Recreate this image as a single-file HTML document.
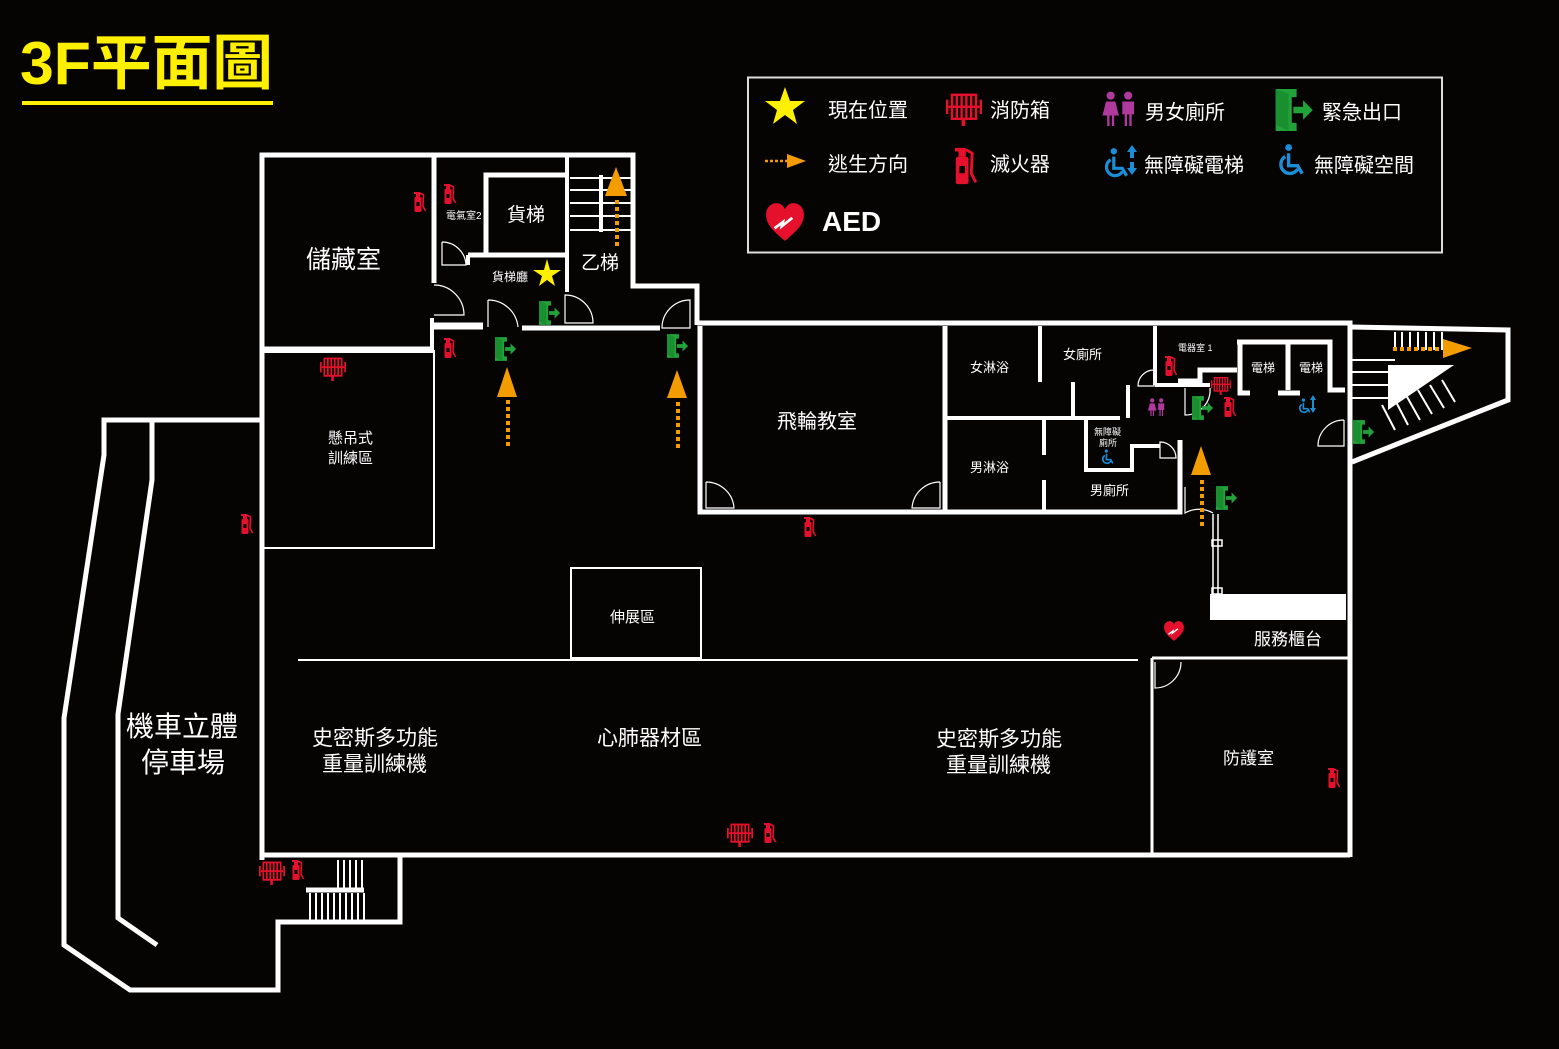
<!DOCTYPE html>
<html><head><meta charset="utf-8"><style>
html,body{margin:0;padding:0;background:#060303;}
svg{display:block;}
text{font-family:"Liberation Sans","Noto Sans CJK TC",sans-serif;fill:#fff;}
</style></head><body>
<svg width="1559" height="1049" viewBox="0 0 1559 1049" xmlns="http://www.w3.org/2000/svg">
<defs>
<symbol id="ext" viewBox="0 0 14 22"><path d="M2 1h6v2H2z M4 3h4v3H4z" fill="#e5102b"/><rect x="2.5" y="6" width="7" height="15" rx="1.2" fill="#e5102b"/><rect x="4.5" y="11" width="3" height="4" fill="#000"/><path d="M8 2 L11.5 4 L11 15 L13.5 20" stroke="#e5102b" stroke-width="1.6" fill="none"/></symbol>
<symbol id="hose" viewBox="0 0 30 30"><g fill="#e5102b"><rect x="0" y="8" width="2" height="12"/><rect x="28" y="8" width="2" height="12"/><rect x="2" y="13" width="26" height="2"/><rect x="4" y="4" width="2" height="20"/><rect x="8" y="3" width="2" height="22"/><rect x="12" y="3" width="2" height="22"/><rect x="16" y="3" width="2" height="22"/><rect x="20" y="3" width="2" height="22"/><rect x="24" y="4" width="2" height="20"/><rect x="4" y="3" width="22" height="2"/><rect x="4" y="23" width="22" height="2"/><rect x="13" y="24" width="3" height="6"/></g></symbol>
<symbol id="exit" viewBox="0 0 24 26"><path d="M0 0h13v5h-3v16h3v5H0z" fill="#22a33a"/><path d="M0 0l8 3v23L0 22z" fill="#1a8f30"/><path d="M11 11h6v-4l6 6-6 6v-4h-6z" fill="#22a33a"/></symbol>
<symbol id="wc" viewBox="0 0 30 30"><g fill="#b0399e"><circle cx="7" cy="4" r="3.5"/><path d="M3 9h8l3 12H0z M4 21h2v9H4z M8 21h2v9H8z"/><circle cx="22" cy="4" r="3.5"/><path d="M17 9h10v11h-2v10h-2v-10h-2v10h-2v-10h-2z"/></g></symbol>
<symbol id="wh" viewBox="0 0 30 30"><g fill="none" stroke="#1a8fd8" stroke-width="3"><path d="M9 12 A8 8 0 1 0 20 23"/><path d="M12 9 L12 20 L20 20 L24 27"/></g><circle cx="12" cy="4" r="3" fill="#1a8fd8"/></symbol>
<symbol id="aed" viewBox="0 0 40 40"><path d="M20 38 C8 28 2 22 2 13 C2 6 7 2 12 2 C16 2 19 5 20 8 C21 5 24 2 28 2 C33 2 38 6 38 13 C38 22 32 28 20 38Z" fill="#e5102b"/><path d="M10 26 L18 20 L17 24 L27 16" stroke="#fff" stroke-width="2.5" fill="none"/></symbol>
</defs>

<rect width="1559" height="1049" fill="#060303"/>

<text x="20" y="84" font-size="60" font-weight="bold" textLength="253" lengthAdjust="spacingAndGlyphs" style="fill:#ffef00">3F平面圖</text>
<rect x="22" y="101" width="251" height="4" fill="#ffef00"/>

<rect x="748" y="77.5" width="694" height="175" fill="none" stroke="#ddd" stroke-width="2"/>
<polygon points="785,87 790,101 805,101 793,110 797,124 785,115 773,124 777,110 765,101 780,101" fill="#ffef00"/>
<text x="828" y="117" font-size="20">現在位置</text>
<use href="#hose" x="946" y="90" width="36" height="36"/>
<text x="990" y="117" font-size="20">消防箱</text>
<use href="#wc" x="1101" y="91" width="38" height="35"/>
<text x="1145" y="119" font-size="20">男女廁所</text>
<use href="#exit" x="1275" y="89" width="40" height="42"/>
<text x="1322" y="119" font-size="20">緊急出口</text>
<line x1="765" y1="161" x2="787" y2="161" stroke="#f29c00" stroke-width="2.5" stroke-dasharray="3,2"/>
<polygon points="787,154 806,161 787,168" fill="#f29c00"/>
<text x="828" y="171" font-size="20">逃生方向</text>
<use href="#ext" x="948" y="146" width="32" height="40"/>
<text x="990" y="171" font-size="20">滅火器</text>
<use href="#wh" x="1101" y="146" width="32" height="34"/>
<polygon points="1132,145 1137,152 1127,152" fill="#1a8fd8"/><rect x="1130" y="152" width="4" height="6" fill="#1a8fd8"/><rect x="1130" y="162" width="4" height="6" fill="#1a8fd8"/><polygon points="1127,168 1137,168 1132,175" fill="#1a8fd8"/>
<text x="1144" y="172" font-size="20">無障礙電梯</text>
<use href="#wh" x="1275" y="141" width="34" height="38"/>
<text x="1314" y="172" font-size="20">無障礙空間</text>
<use href="#aed" x="764" y="201" width="42" height="42"/>
<text x="822" y="231" font-size="28" font-weight="bold">AED</text>

<g fill="none" stroke="#fff" stroke-linejoin="miter">
<path d="M262 860 V155 H633 V286 H697 V325" stroke-width="5"/>
<path d="M434 155 V283" stroke-width="5"/>
<path d="M262 349 H434" stroke-width="5"/>
<path d="M434 350 V548 H264" stroke-width="2"/>
<path d="M264 352 H434" stroke-width="2"/>
<path d="M567 155 V258" stroke-width="4"/>
<path d="M486 255 V175 H567" stroke-width="5"/>
<path d="M468 255 H567" stroke-width="5"/>
<path d="M468 255 V265" stroke-width="4"/>
<path d="M567 258 V292" stroke-width="4"/>
<path d="M430 326 H483" stroke-width="7"/>
<path d="M522 328 H660" stroke-width="5"/>
<path d="M432 318 V350" stroke-width="4"/>
<path d="M570 178 H632 M570 190 H632 M570 203 H632 M570 216 H632 M570 230 H632" stroke-width="2"/>
<path d="M601 175 V232" stroke-width="4"/>
<path d="M697 323 H1350 V857" stroke-width="5"/>
<path d="M700 326 V512 H945 V326" stroke-width="5"/>
<path d="M945 512 H1180 V440" stroke-width="5"/>
<path d="M947 418 H1120" stroke-width="4"/>
<path d="M1040 326 V382 M1073 382 V418 M1128 385 V418" stroke-width="4"/>
<path d="M1044 420 V455 M1044 480 V512" stroke-width="4"/>
<path d="M1086 420 V470 H1132 V446 H1160" stroke-width="4"/>
<path d="M1155 326 V385" stroke-width="4"/>
<path d="M1155 385 H1175 H1210" stroke-width="4"/>
<path d="M1178 381 H1200 V370 H1237" stroke-width="5"/>
<path d="M1237 342 H1330 V390 H1345" stroke-width="5"/>
<path d="M1240 342 V393 H1250 M1288 342 V390 M1278 393 H1300" stroke-width="5"/>
<path d="M1213 514 V595" stroke-width="1.5"/>
<path d="M1218 514 V595" stroke-width="1.5"/>
<rect x="1212" y="540" width="10" height="6" stroke-width="1.5"/>
<rect x="1212" y="588" width="10" height="6" stroke-width="1.5"/>
<path d="M262 855 H1350" stroke-width="5"/>
<path d="M1152 658 V855 M1152 658 H1350" stroke-width="3"/>
<path d="M298 660 H1138" stroke-width="2"/>
<rect x="571" y="568" width="130" height="90" stroke-width="2"/>
<path d="M262 420 H104 V455 L64 718 V945 L130 990 H278 V922 H400 V857" stroke-width="5"/>
<path d="M152 420 V480 L118 714 V918 L157 945" stroke-width="5"/>
<path d="M306 890 H364" stroke-width="5"/>
<path d="M338 860 V890 M344 860 V890 M350 860 V890 M356 860 V890 M362 860 V890 M310 893 V920 M316 893 V920 M322 893 V920 M328 893 V920 M334 893 V920 M340 893 V920 M346 893 V920 M352 893 V920 M358 893 V920 M364 893 V920" stroke-width="2"/>
<path d="M1350 327 L1508 330 V400 L1352 462" stroke-width="5"/>
<path d="M1352 360 H1395 M1352 372 H1395 M1352 385 H1395 M1352 398 H1395" stroke-width="2"/>
<path d="M1395 332 V350 M1402 332 V350 M1410 332 V350 M1418 332 V350 M1426 332 V350 M1434 332 V350 M1442 332 V350" stroke-width="2"/>
<path d="M1395 430 L1382 405 M1408 425 L1395 400 M1420 420 L1406 395 M1432 414 L1418 390 M1444 408 L1430 385 M1455 402 L1442 380" stroke-width="2"/>
</g>
<polygon points="1388,365 1454,365 1388,410" fill="#fff"/>
<rect x="1210" y="594" width="136" height="26" fill="#fff"/>

<g fill="none" stroke="#fff" stroke-width="1.2">
<path d="M442 242 V265 H466 A24 24 0 0 0 442 242"/>
<path d="M434 285 A30 30 0 0 1 464 315 H434"/>
<path d="M488 300 V327 M488 300 A30 30 0 0 1 518 327"/>
<path d="M565 295 A28 28 0 0 1 593 323 H565 Z"/>
<path d="M690 300 A28 28 0 0 0 662 328 H690 Z"/>
<path d="M706 482 V508 H734 A28 28 0 0 0 706 482"/>
<path d="M940 482 V508 H912 A28 28 0 0 1 940 482"/>
<path d="M1154 370 A16 16 0 0 0 1138 386 H1154 Z"/>
<path d="M1160 442 A16 16 0 0 1 1176 458 H1160 Z"/>
<path d="M1155 662 V688 A26 26 0 0 0 1181 662"/>
<path d="M1344 420 V446 H1318 A26 26 0 0 1 1344 420"/>
<path d="M1185 487 V513 A28 28 0 0 1 1213 513"/>
<path d="M1185 388 V415 A25 25 0 0 0 1210 388"/>
</g>

<use href="#exit" x="539" y="301" width="22" height="24"/>
<use href="#exit" x="495" y="337" width="22" height="24"/>
<use href="#exit" x="667" y="334" width="22" height="24"/>
<use href="#exit" x="1192" y="396" width="22" height="24"/>
<use href="#exit" x="1216" y="486" width="22" height="24"/>
<use href="#exit" x="1353" y="420" width="22" height="24"/>

<use href="#ext" x="412" y="191" width="14" height="22"/>
<use href="#ext" x="442" y="183" width="14" height="22"/>
<use href="#ext" x="442" y="337" width="14" height="22"/>
<use href="#ext" x="239" y="513" width="14" height="22"/>
<use href="#ext" x="802" y="516" width="14" height="22"/>
<use href="#ext" x="1163" y="355" width="14" height="22"/>
<use href="#ext" x="1222" y="396" width="14" height="22"/>
<use href="#ext" x="1326" y="767" width="14" height="22"/>
<use href="#ext" x="762" y="822" width="14" height="22"/>
<use href="#ext" x="290" y="859" width="14" height="22"/>
<use href="#hose" x="320" y="355" width="26" height="26"/>
<use href="#hose" x="1211" y="375" width="20" height="20"/>
<use href="#hose" x="727" y="820" width="26" height="28"/>
<use href="#hose" x="259" y="858" width="26" height="28"/>
<use href="#wc" x="1147" y="398" width="20" height="18"/>
<use href="#wh" x="1100" y="448" width="16" height="18"/>
<use href="#wh" x="1297" y="396" width="16" height="20"/>
<polygon points="1313,395 1316,400 1310,400" fill="#1a8fd8"/><polygon points="1310,408 1316,408 1313,413" fill="#1a8fd8"/><rect x="1312" y="400" width="2" height="8" fill="#1a8fd8"/>
<use href="#aed" x="1162" y="620" width="24" height="22"/>

<polygon points="547,259 550,270 561,270 552,276 555,286 547,280 539,286 542,276 533,270 544,270" fill="#ffef00"/>

<g fill="#f29c00">
<polygon points="616,167 605,196 627,196"/>
<polygon points="507,367 497,397 517,397"/>
<polygon points="677,370 667,398 687,398"/>
<polygon points="1201,446 1191,475 1211,475"/>
<polygon points="1443,339 1443,358 1472,348"/>
</g>
<g stroke="#f29c00" stroke-width="4" stroke-dasharray="4,3">
<line x1="617" y1="200" x2="617" y2="248"/>
<line x1="508" y1="400" x2="508" y2="448"/>
<line x1="678" y1="402" x2="678" y2="450"/>
<line x1="1202" y1="480" x2="1202" y2="528"/>
<line x1="1393" y1="349" x2="1440" y2="349"/>
</g>

<text x="306" y="268" font-size="25">儲藏室</text>
<text x="446" y="219" font-size="10">電氣室2</text>
<text x="507" y="221" font-size="19">貨梯</text>
<text x="492" y="281" font-size="12">貨梯廳</text>
<text x="581" y="269" font-size="19">乙梯</text>
<text x="328" y="443" font-size="15">懸吊式</text>
<text x="328" y="463" font-size="15">訓練區</text>
<text x="777" y="428" font-size="20">飛輪教室</text>
<text x="970" y="372" font-size="13">女淋浴</text>
<text x="1063" y="359" font-size="13">女廁所</text>
<text x="970" y="472" font-size="13">男淋浴</text>
<text x="1090" y="495" font-size="13">男廁所</text>
<text x="1094" y="435" font-size="9">無障礙</text>
<text x="1099" y="446" font-size="9">廁所</text>
<text x="1178" y="351" font-size="9">電器室 1</text>
<text x="1251" y="372" font-size="12">電梯</text>
<text x="1299" y="372" font-size="12">電梯</text>
<text x="610" y="622" font-size="15">伸展區</text>
<text x="1254" y="645" font-size="17">服務櫃台</text>
<text x="1223" y="764" font-size="17">防護室</text>
<text x="126" y="736" font-size="28">機車立體</text>
<text x="141" y="772" font-size="28">停車場</text>
<text x="312" y="745" font-size="21">史密斯多功能</text>
<text x="322" y="771" font-size="21">重量訓練機</text>
<text x="597" y="745" font-size="21">心肺器材區</text>
<text x="936" y="746" font-size="21">史密斯多功能</text>
<text x="946" y="772" font-size="21">重量訓練機</text>
</svg>
</body></html>
